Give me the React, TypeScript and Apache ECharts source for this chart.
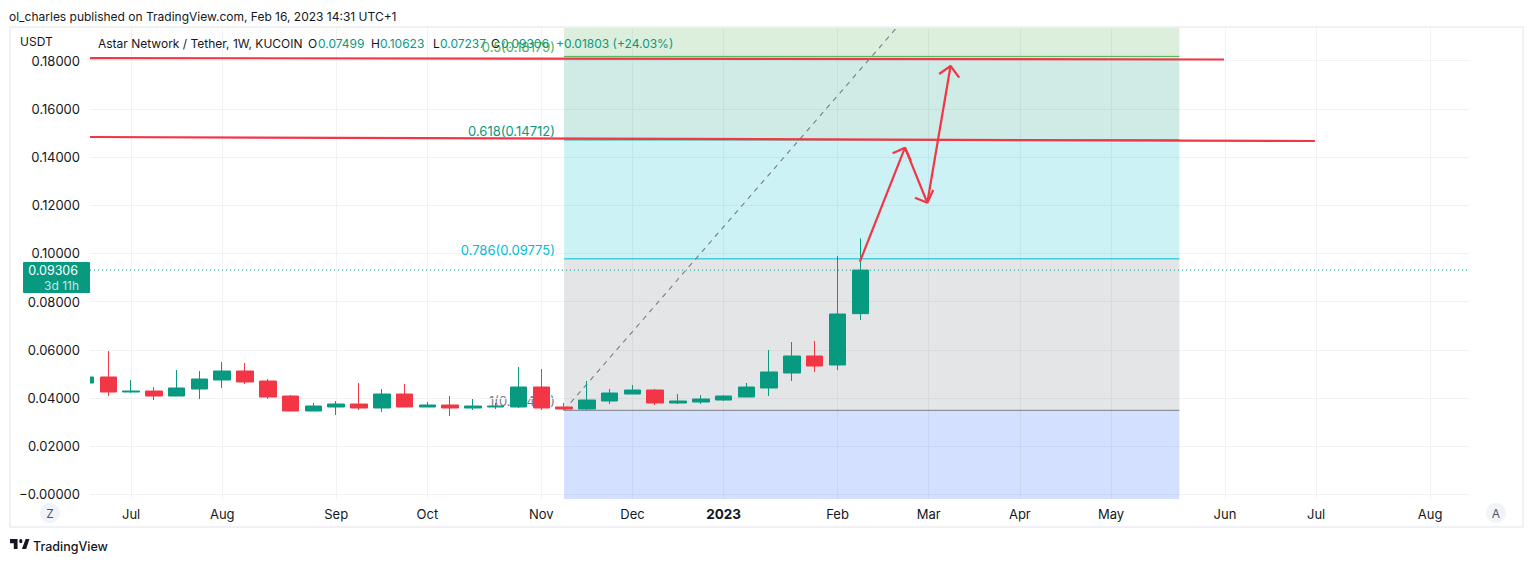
import React, { useEffect, useRef } from "react";
import * as echarts from "echarts";

const OPENS = [.0462,.0487,.04247,.04288,.0408,.04371,.04745,.05118,.04703,.0408,.03458,.03624,.03748,.03582,.04163,.03624,.03707,.03582,.03624,.03624,.04454,.03624,.03541,.03873,.04163,.04329,.0379,.03831,.03914,.04039,.04413,.05035,.05741,.05367,.07499];
const CLOSES = [.0487,.04247,.04288,.0408,.04413,.04786,.05118,.04662,.04039,.03458,.03665,.03748,.03582,.04163,.03624,.03707,.03582,.03665,.03665,.04454,.03582,.03541,.03914,.04205,.04329,.0379,.03873,.03956,.0408,.04454,.05077,.05741,.05326,.07484,.09306];
const LOWS = [.0462,.0408,.04218,.03914,.0408,.03956,.04413,.04579,.03956,.03458,.03458,.03292,.035,.03416,.03624,.03624,.0325,.035,.03541,.03582,.035,.03487,.035,.03748,.04163,.03707,.03748,.03748,.03873,.04039,.0408,.04703,.05077,.0516,.07237];
const HIGHS = [.0487,.05949,.04745,.04454,.0516,.05118,.05492,.0545,.04786,.04122,.0379,.03873,.0462,.04371,.04579,.03831,.0408,.03956,.0379,.05284,.05201,.0379,.04703,.04371,.04537,.04371,.04163,.04122,.04122,.0462,.0599,.06322,.06364,.09892,.10623];

const MONTH_TICKS = [2, 6, 11, 15, 20, 24, 28, 33, 37, 41, 45, 50, 54, 59];
const MONTH_LABELS = ["Jul", "Aug", "Sep", "Oct", "Nov", "Dec", "2023", "Feb", "Mar", "Apr", "May", "Jun", "Jul", "Aug"];
const PRICE_TICKS = [0, .02, .04, .06, .08, .1, .12, .14, .16, .18];

const X_MIN = 0.197;
const X_MAX = 60.71;
const Y_MIN = -0.00195;
const Y_MAX = 0.19357;

const FIB_START = 21;
const FIB_END = 48;
const FIB_LEVELS = [0.18179, 0.14712, 0.09775, 0.03487];
const FIB_LINE_COLORS = ["#4caf50", "#089981", "#00bcd4", "#787b86"];
const FIB_BAND_EDGES = [Y_MAX, 0.18179, 0.14712, 0.09775, 0.03487, Y_MIN];
const FIB_BAND_COLORS = ["rgba(76,175,80,.2)", "rgba(8,153,129,.2)", "rgba(0,188,212,.2)", "rgba(120,123,134,.2)", "rgba(41,98,255,.2)"];

const LAST_PRICE = 0.09306;
const TREND_LINE = [[21, 0.03487], [35.66, 0.1944]];
const RED_LINE_TOP = [[X_MIN, 0.1811], [49.96, 0.1805]];
const RED_LINE_MID = [[X_MIN, 0.14832], [53.95, 0.14666]];
const ARROW_UP = [[33.98, 0.09655], [35.96, 0.14388]];
const ARROW_UP_HEAD = [[35.42, 0.14155], [35.96, 0.14388], [36.22, 0.13848]];
const ARROW_DOWN = [[35.96, 0.14388], [36.94, 0.12104]];
const ARROW_DOWN_HEAD = [[36.4, 0.12312], [36.94, 0.12104], [37.2, 0.12632]];
const ARROW_UP2 = [[36.94, 0.12104], [37.96, 0.17779]];
const ARROW_UP2_HEAD = [[37.46, 0.17447], [37.96, 0.17779], [38.34, 0.17294]];

const GREEN = "#089981";
const RED = "#F23645";
const INK = "#131722";
const GRID = "#f2f2f4";
const FONT = "Inter, sans-serif";

const HEADER: [string, number, string][] = [
  ["Astar Network / Tether, 1W, KUCOIN", 98, INK],
  ["O", 308, INK],
  ["0.07499", 318, GREEN],
  ["H", 371, INK],
  ["0.10623", 380, GREEN],
  ["L", 433, INK],
  ["0.07237", 440, GREEN],
  ["C", 491, INK],
  ["0.09306", 501, GREEN],
  ["+0.01803 (+24.03%)", 556, GREEN],
];

const FIB_TEXTS: [string, number, string, number][] = [
  ["0.5(0.18179)", 47, "#4caf50", 50],
  ["0.618(0.14712)", 131, "#089981", 50],
  ["0.786(0.09775)", 250, "#00bcd4", 50],
  ["1(0.03487)", 401, "#787b86", 0],
];

const LOGO_PATH = "M14 6H0v6h7v8h7V6Z M23 9a3 3 0 1 1-6 0a3 3 0 0 1 6 0Z M29 6h7l-6 14h-8l7-14Z";

function txt(text: string, x: number, y: number, fill: string, size = 12, extra: any = {}, z = 100) {
  return {
    type: "text", x, y, z, silent: true,
    style: { text, fill, font: `${extra.weight ?? 400} ${size}px ${FONT}`, textAlign: extra.align ?? "left", textVerticalAlign: "middle" },
  };
}

function line(data: number[][], color: string, width: number, z: number, type: any = "solid") {
  return {
    type: "line", data, symbol: "none", silent: true, z, clip: true, animation: false,
    lineStyle: { color, width, type },
  };
}

export default function App() {
  const ref = useRef<HTMLDivElement>(null);
  useEffect(() => {
    if (!ref.current) return;
    echarts.graphic.registerShape("tvlogo", echarts.graphic.extendPath(LOGO_PATH, {}) as any);
    const chart = echarts.init(ref.current, undefined, { renderer: "svg" });
    const bands = FIB_BAND_COLORS.map((color, i) => ({
      value: [FIB_START, FIB_END, FIB_BAND_EDGES[i + 1], FIB_BAND_EDGES[i]],
      itemStyle: { color },
    }));
    chart.setOption({
      animation: false,
      backgroundColor: "#ffffff",
      textStyle: { fontFamily: FONT },
      grid: { left: 90, right: 64, top: 28, bottom: 63 },
      xAxis: {
        type: "value", min: X_MIN, max: X_MAX,
        axisLine: { show: false },
        axisTick: { show: false, customValues: MONTH_TICKS },
        splitLine: { show: true, lineStyle: { color: GRID, width: 1 } },
        axisLabel: {
          customValues: MONTH_TICKS, margin: 8, fontSize: 13, color: INK, fontFamily: FONT,
          formatter: (v: number) => {
            const s = MONTH_LABELS[MONTH_TICKS.indexOf(v)];
            return s === "2023" ? "{b|2023}" : s;
          },
          rich: { b: { fontWeight: 700, fontSize: 13.5, color: INK, fontFamily: FONT } },
        },
      },
      yAxis: {
        type: "value", min: Y_MIN, max: Y_MAX,
        axisLine: { show: false },
        axisTick: { show: false, customValues: PRICE_TICKS },
        splitLine: { show: true, lineStyle: { color: GRID, width: 1 } },
        axisLabel: {
          customValues: PRICE_TICKS, margin: 10, fontSize: 13, color: INK, fontFamily: FONT,
          formatter: (v: number) => (v === 0 ? "\u22120.00000" : v.toFixed(5)),
        },
      },
      series: [
        {
          type: "custom", z: 1, silent: true, clip: true,
          data: bands,
          encode: { x: [0, 1], y: [2, 3] },
          renderItem: (_p: any, api: any) => {
            const a = api.coord([api.value(0), api.value(3)]);
            const b = api.coord([api.value(1), api.value(2)]);
            return {
              type: "rect",
              shape: { x: a[0], y: a[1], width: b[0] - a[0], height: b[1] - a[1] },
              style: { fill: api.visual("color") },
            };
          },
        },
        ...FIB_LEVELS.map((lv, i) => line([[FIB_START, lv], [FIB_END, lv]], FIB_LINE_COLORS[i], 1, 2)),
        line(TREND_LINE, "#787b86", 1.1, 2, [5, 5]),
        {
          type: "candlestick", z: 3, silent: true, barWidth: 17,
          encode: { x: 0, y: [1, 2, 3, 4] },
          data: OPENS.map((o, i) => [i, o, CLOSES[i], LOWS[i], HIGHS[i]]),
          itemStyle: { color: GREEN, color0: RED, borderColor: GREEN, borderColor0: RED, borderWidth: 1 },
        },
        line([[X_MIN, LAST_PRICE], [X_MAX, LAST_PRICE]], GREEN, 1, 4, [1, 3]),
        line(RED_LINE_TOP, RED, 2.2, 5),
        line(RED_LINE_MID, RED, 2.2, 5),
        line(ARROW_UP, RED, 2.2, 5),
        line(ARROW_UP_HEAD, RED, 2.2, 5),
        line(ARROW_DOWN, RED, 2.2, 5),
        line(ARROW_DOWN_HEAD, RED, 2.2, 5),
        line(ARROW_UP2, RED, 2.2, 5),
        line(ARROW_UP2_HEAD, RED, 2.2, 5),
      ],
      graphic: {
        elements: [
          { type: "rect", z: 0, silent: true, shape: { x: 10, y: 27, width: 1513, height: 500 }, style: { fill: "none", stroke: "#f0f0f5", lineWidth: 2 } },
          // masks the part of the first, partly scrolled-off candle that lies left of the plot
          { type: "rect", z: 4, silent: true, shape: { x: 70, y: 372, width: 20, height: 16 }, style: { fill: "#ffffff" } },
          txt("ol_charles published on TradingView.com, Feb 16, 2023 14:31 UTC+1", 9, 16, INK, 12),
          txt("USDT", 20, 41, INK, 12),
          ...HEADER.map(([t, x, c]) => txt(t, x, 43, c, 12)),
          ...FIB_TEXTS.map(([t, y, c, z]) => txt(t, 555, y, c, 13, { align: "right" }, z)),
          { type: "rect", z: 100, silent: true, shape: { x: 23, y: 262, width: 67, height: 31, r: 1 }, style: { fill: GREEN } },
          txt("0.09306", 78, 270, "#ffffff", 12.5, { align: "right" }),
          txt("3d 11h", 79, 285, "#c4e6e0", 12, { align: "right" }),
          { type: "circle", z: 100, silent: true, shape: { cx: 50, cy: 513, r: 10 }, style: { fill: "#f0f3fa" } },
          txt("Z", 50, 513, "#50535e", 12, { align: "center" }),
          { type: "circle", z: 100, silent: true, shape: { cx: 1496, cy: 513, r: 10 }, style: { fill: "#f0f3fa" } },
          txt("A", 1496, 513, "#50535e", 12, { align: "center" }),
          { type: "tvlogo", x: 10, y: 534.7, scaleX: 0.54, scaleY: 0.72, z: 100, silent: true, style: { fill: INK } },
          txt("TradingView", 33, 546, INK, 12.5, { weight: 500 }),
        ],
      },
    });
    return () => chart.dispose();
  }, []);
  return <div ref={ref} style={{ position: "fixed", left: 0, top: 0, width: 1533, height: 562 }} />;
}
